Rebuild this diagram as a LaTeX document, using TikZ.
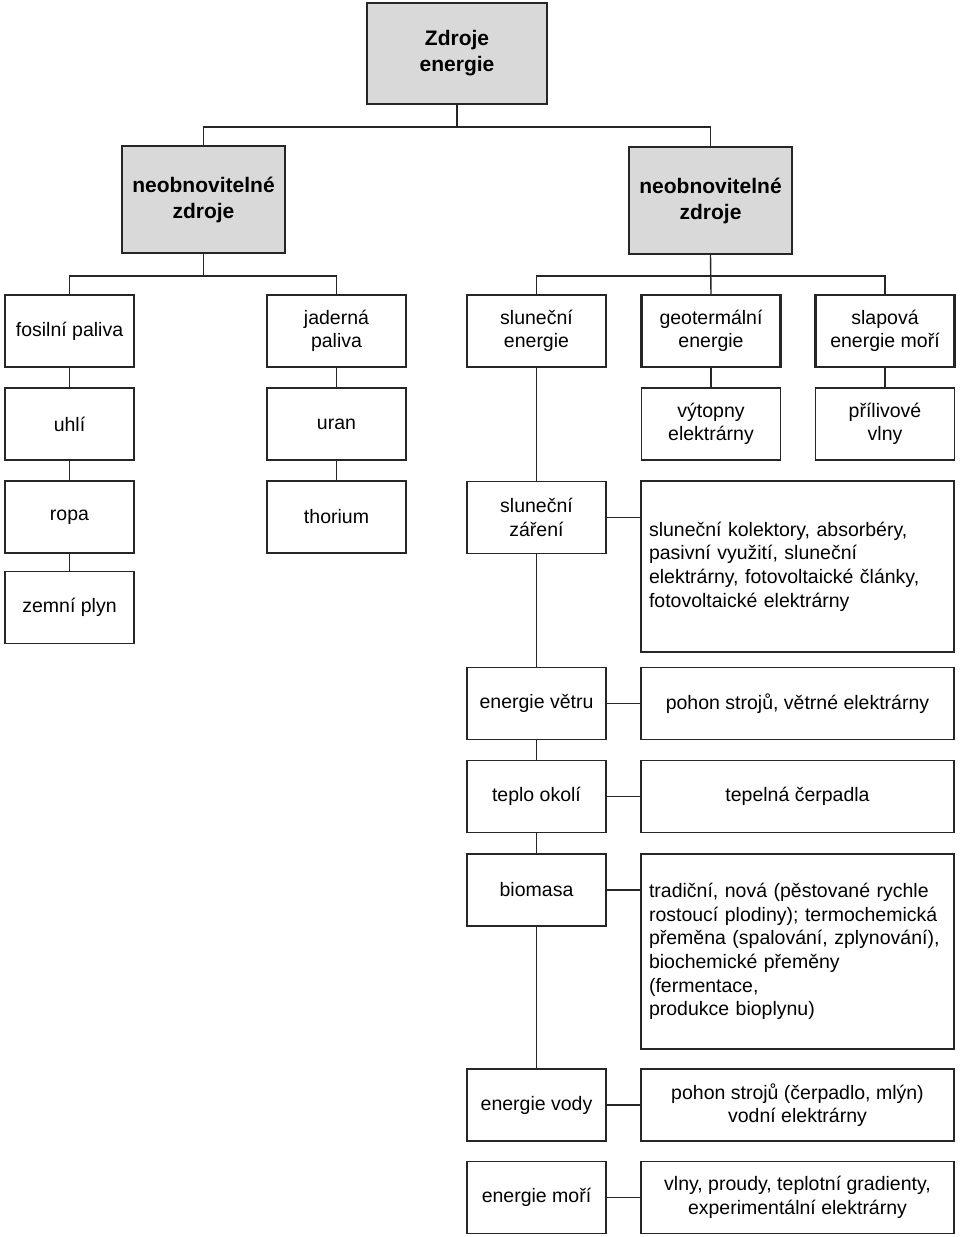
\documentclass[tikz,border=0pt]{standalone}
\usepackage{fontspec}
\setmainfont{Liberation Sans}

\begin{document}
\begin{tikzpicture}[
  x=1pt, y=-1pt,
  font=\fontsize{19.5}{23.6}\selectfont,
  box/.style={draw=black!85, line width=1.4pt, align=center, inner sep=0pt,
    minimum width=139pt, minimum height=72pt},
  head/.style={box, line width=1.9pt, fill=black!15,
    font=\fontsize{21}{26}\selectfont\bfseries},
  kind/.style={box, line width=2.4pt},
  wide/.style={box, minimum width=313pt},
  textbox/.style={box, align=left, text width=297pt, inner xsep=8pt},
  link/.style={draw=black!85, line width=1.4pt}
]
\useasboundingbox (0,0) rectangle (960,1237);

% row 1-2: root and the two groups
\node[head, minimum width=180pt, minimum height=101pt] (root) at (457,53.5) {Zdroje\\energie};
\node[head, minimum width=163pt, minimum height=107pt] (neoL) at (203.5,199.5) {neobnovitelné\\zdroje};
\node[head, minimum width=163pt, minimum height=107pt] (neoR) at (710.5,200.5) {neobnovitelné\\zdroje};
\draw[link] (root.south) -- ++(0,22) -| (neoL.north);
\draw[link] (root.south) -- ++(0,22) -| (neoR.north);

% row 3: kinds of sources
\node[kind, minimum width=129pt] (fos) at (69.5,331) {fosilní paliva};
\node[kind] (jad) at (336.5,331) {jaderná\\paliva};
\node[kind] (slun) at (536.5,331) {sluneční\\energie};
\node[kind] (geo) at (711,331) {geotermální\\energie};
\node[kind] (slap) at (885,331) {slapová\\energie moří};
\draw[link] (neoL.south) -- ++(0,22) -| (fos.north);
\draw[link] (neoL.south) -- ++(0,22) -| (jad.north);
\draw[link] (neoR.south) -- ++(0,21) -| (slun.north);
\draw[link] (neoR.south) -- (geo.north);
\draw[link] (neoR.south) -- ++(0,21) -| (slap.north);

% left columns
\node[box, minimum width=129pt] (uhli) at (69.5,424) {uhlí};
\node[box, minimum width=129pt] (ropa) at (69.5,517) {ropa};
\node[box, minimum width=129pt] (plyn) at (69.5,607.5) {zemní plyn};
\node[box] (uran) at (336.5,424) {uran};
\node[box] (thor) at (336.5,517) {thorium};
\draw[link] (fos) -- (uhli);
\draw[link] (uhli) -- (ropa);
\draw[link] (ropa) -- (plyn);
\draw[link] (jad) -- (uran);
\draw[link] (uran) -- (thor);

% geothermal and tidal
\node[box] (vyt) at (711,424) {výtopny\\elektrárny};
\node[box] (pril) at (885,424) {přílivové\\vlny};
\draw[link] (geo) -- (vyt);
\draw[link] (slap) -- (pril);

% solar spine
\node[box] (zar) at (536.5,517.5) {sluneční\\záření};
\node[textbox, minimum height=171pt] (zarT) at (797.5,566.5)
  {sluneční kolektory, absorbéry,\\pasivní využití, sluneční\\elektrárny, fotovoltaické články,\\fotovoltaické elektrárny};
\node[box] (vitr) at (536.5,703.5) {energie větru};
\node[wide] (vitrT) at (797.5,703.5) {pohon strojů, větrné elektrárny};
\node[box] (tep) at (536.5,796.5) {teplo okolí};
\node[wide] (tepT) at (797.5,796.5) {tepelná čerpadla};
\node[box] (bio) at (536.5,890) {biomasa};
\node[textbox, minimum height=195pt] (bioT) at (797.5,951.5)
  {tradiční, nová (pěstované rychle\\rostoucí plodiny); termochemická\\přeměna (spalování, zplynování),\\biochemické přeměny\\(fermentace,\\produkce bioplynu)};
\node[box] (vod) at (536.5,1105) {energie vody};
\node[wide] (vodT) at (797.5,1105) {pohon strojů (čerpadlo, mlýn)\\vodní elektrárny};
\node[box] (mor) at (536.5,1197.5) {energie moří};
\node[wide] (morT) at (797.5,1197.5) {vlny, proudy, teplotní gradienty,\\experimentální elektrárny};

\draw[link] (slun) -- (zar);
\draw[link] (zar) -- (vitr);
\draw[link] (vitr) -- (tep);
\draw[link] (tep) -- (bio);
\draw[link] (bio) -- (vod);
\draw[link] (zar.east) -- (zar.east -| zarT.west);
\draw[link] (vitr) -- (vitrT);
\draw[link] (tep) -- (tepT);
\draw[link] (bio.east) -- (bio.east -| bioT.west);
\draw[link] (vod) -- (vodT);
\draw[link] (mor) -- (morT);

\end{tikzpicture}
\end{document}
